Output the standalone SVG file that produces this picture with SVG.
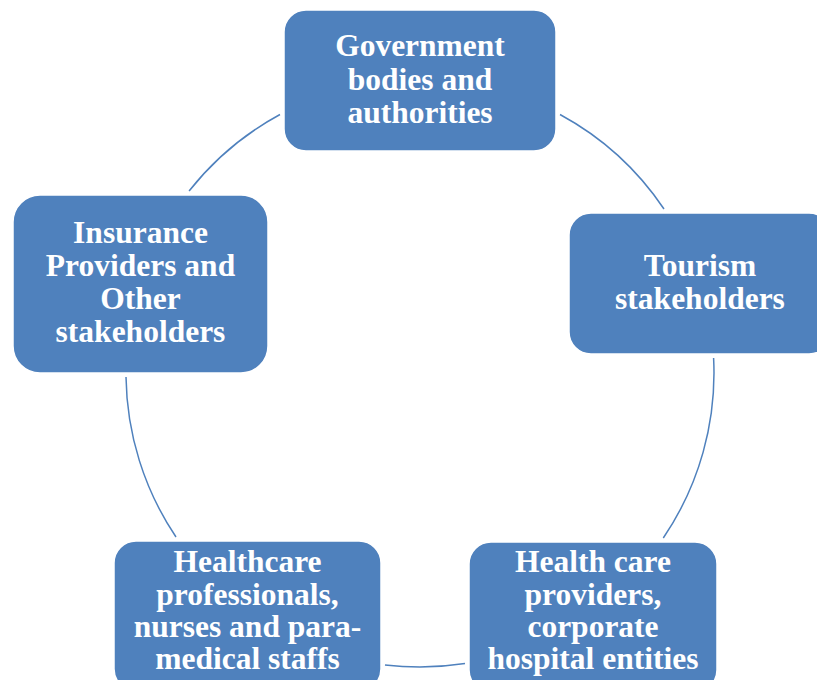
<svg xmlns="http://www.w3.org/2000/svg" width="817" height="680" viewBox="0 0 817 680">
  <style>
    .box { fill: #4F81BD; stroke: #FFFFFF; stroke-width: 1.5; }
    .lbl { font-family: "Liberation Serif", "Times New Roman", serif; font-weight: bold; font-size: 31.5px; fill: #FFFFFF; text-anchor: middle; }
    .arc { fill: none; stroke: #4F81BD; stroke-width: 1.5; }
  </style>
  <rect width="817" height="680" fill="#FFFFFF"/>

  <!-- ring of connectors: circle centre (420,373), r = 294 -->
  <g id="connectors">
    <path class="arc" d="M189.1,191 A294,294 0 0,1 280,114.5"/>
    <path class="arc" d="M560,114.5 A294,294 0 0,1 664,209"/>
    <path class="arc" d="M713.6,358 A294,294 0 0,1 663.3,538"/>
    <path class="arc" d="M465,663.5 A294,294 0 0,1 385,664.9"/>
    <path class="arc" d="M176,537 A294,294 0 0,1 126,377"/>
  </g>

  <g id="government">
    <rect class="box" x="284" y="10" width="272" height="141" rx="22"/>
    <text class="lbl" x="420" y="56">Government</text>
    <text class="lbl" x="420" y="89.5">bodies and</text>
    <text class="lbl" x="420" y="123">authorities</text>
  </g>

  <g id="tourism">
    <rect class="box" x="569" y="213" width="262" height="141" rx="22"/>
    <text class="lbl" x="700" y="276">Tourism</text>
    <text class="lbl" x="700" y="309">stakeholders</text>
  </g>

  <g id="providers">
    <rect class="box" x="469" y="542" width="248" height="150" rx="22"/>
    <text class="lbl" x="593" y="572">Health care</text>
    <text class="lbl" x="593" y="604.5">providers,</text>
    <text class="lbl" x="593" y="637">corporate</text>
    <text class="lbl" x="593" y="669">hospital entities</text>
  </g>

  <g id="professionals">
    <rect class="box" x="114" y="541" width="267" height="150" rx="22"/>
    <text class="lbl" x="247.5" y="572">Healthcare</text>
    <text class="lbl" x="247.5" y="604.5">professionals,</text>
    <text class="lbl" x="247.5" y="637">nurses and para-</text>
    <text class="lbl" x="247.5" y="669">medical staffs</text>
  </g>

  <g id="insurance">
    <rect class="box" x="13" y="195" width="255" height="178" rx="27"/>
    <text class="lbl" x="140.5" y="243">Insurance</text>
    <text class="lbl" x="140.5" y="276">Providers and</text>
    <text class="lbl" x="140.5" y="308.5">Other</text>
    <text class="lbl" x="140.5" y="342">stakeholders</text>
  </g>
</svg>
